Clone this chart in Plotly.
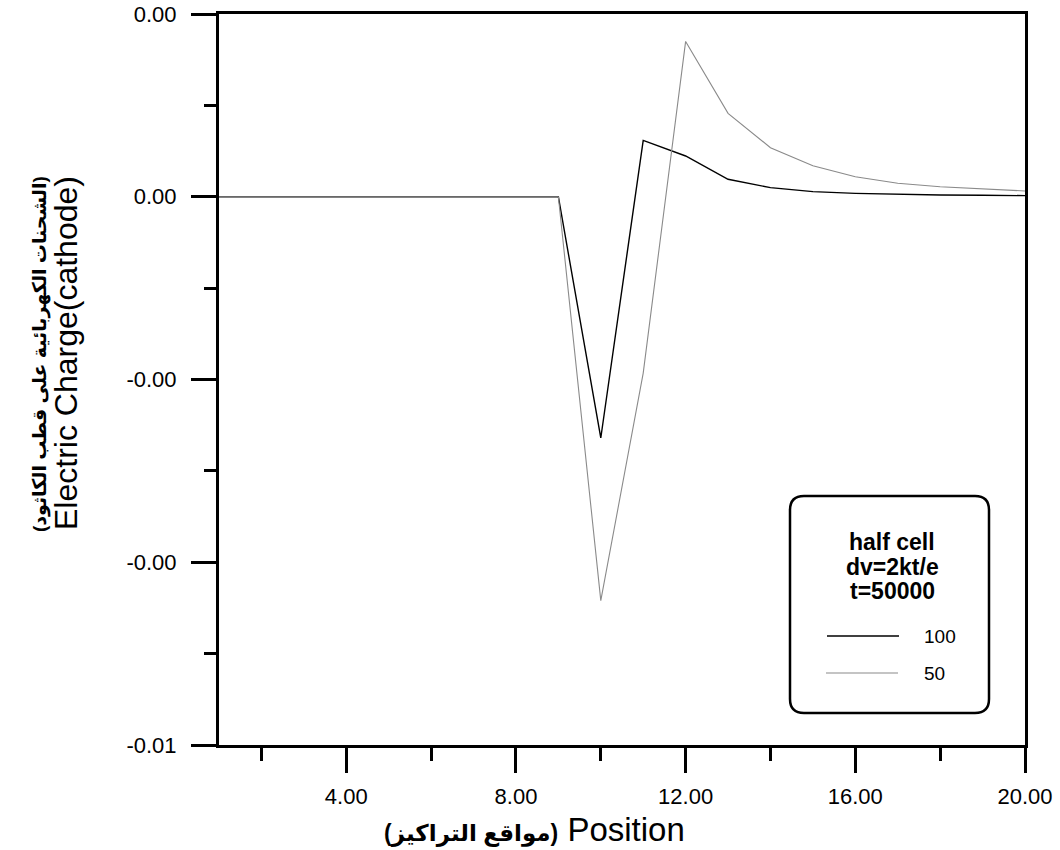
import plotly.graph_objects as go

# ---- data ----
positions = list(range(1, 21))
charge_100 = [0, 0, 0, 0, 0, 0, 0, 0, 0, -0.00264, 0.000617, 0.000446, 0.000191,
              0.000100, 0.000056, 0.000037, 0.000026, 0.000019, 0.000016, 0.000012]
charge_50 = [0, 0, 0, 0, 0, 0, 0, 0, 0, -0.00442, -0.00193, 0.00170, 0.000913,
             0.000537, 0.000340, 0.000219, 0.000147, 0.000110, 0.000085, 0.000063]
series_names = ["100", "50"]
x_tick_vals = [4, 8, 12, 16, 20]
x_tick_text = ["4.00", "8.00", "12.00", "16.00", "20.00"]
y_tick_vals = [0.002, 0.0, -0.002, -0.004, -0.006]
y_tick_text = [f"{v:.2f}" for v in y_tick_vals]
legend_title_lines = ["half cell", "dv=2kt/e", "t=50000"]

# ---- layout geometry (pixels) ----
W, H = 1060, 850
L, R, T, B = 219, 1025, 14, 745
PW, PH = R - L, B - T

def px(xp):
    return (xp - L) / PW

def py(yp):
    return (B - yp) / PH

FONT = "Liberation Sans, Arial, DejaVu Sans, sans-serif"

fig = go.Figure()
fig.add_trace(go.Scatter(x=positions, y=charge_100, mode="lines", name=series_names[0],
                         line=dict(color="#000000", width=1.4), showlegend=False))
fig.add_trace(go.Scatter(x=positions, y=charge_50, mode="lines", name=series_names[1],
                         line=dict(color="#8a8a8a", width=1.1), showlegend=False))

axis_common = dict(showline=True, linecolor="black", linewidth=3, mirror=True,
                   showgrid=False, zeroline=False, ticks="outside", tickcolor="black",
                   tickwidth=3, ticklen=25, automargin=False,
                   tickfont=dict(family=FONT, size=22, color="black"))

fig.update_xaxes(range=[1, 20], tickmode="array", tickvals=x_tick_vals, ticktext=x_tick_text,
                 minor=dict(ticks="outside", dtick=2, tick0=0, ticklen=13, tickwidth=3,
                            tickcolor="black", showgrid=False),
                 ticklabelstandoff=5, **axis_common)
fig.update_yaxes(range=[-0.006, 0.002], tickmode="array", tickvals=y_tick_vals, ticktext=y_tick_text,
                 minor=dict(ticks="outside", dtick=0.001, tick0=0, ticklen=12, tickwidth=3,
                            tickcolor="black", showgrid=False),
                 ticklabelstandoff=10, **axis_common)

# ---- legend box (rounded rectangle) ----
bx0, bx1, by0, by1, rad = 790, 989, 496, 713, 14
path = (f"M {px(bx0+rad)},{py(by0)} L {px(bx1-rad)},{py(by0)} "
        f"Q {px(bx1)},{py(by0)} {px(bx1)},{py(by0+rad)} "
        f"L {px(bx1)},{py(by1-rad)} Q {px(bx1)},{py(by1)} {px(bx1-rad)},{py(by1)} "
        f"L {px(bx0+rad)},{py(by1)} Q {px(bx0)},{py(by1)} {px(bx0)},{py(by1-rad)} "
        f"L {px(bx0)},{py(by0+rad)} Q {px(bx0)},{py(by0)} {px(bx0+rad)},{py(by0)} Z")
shapes = [dict(type="path", path=path, xref="paper", yref="paper",
               line=dict(color="black", width=2.5), fillcolor="white", layer="above")]
shapes.append(dict(type="line", xref="paper", yref="paper", x0=px(827), x1=px(899),
                   y0=py(636), y1=py(636), line=dict(color="#000000", width=1.4)))
shapes.append(dict(type="line", xref="paper", yref="paper", x0=px(826), x1=px(898),
                   y0=py(673), y1=py(673), line=dict(color="#8a8a8a", width=1.1)))

annotations = []
for txt, yc in zip(legend_title_lines, [542, 567, 591]):
    annotations.append(dict(text=f"<b>{txt}</b>", xref="paper", yref="paper", x=px(892), y=py(yc),
                            xanchor="center", yanchor="middle", showarrow=False,
                            font=dict(family=FONT, size=23, color="black")))
for name, yc in zip(series_names, [636, 673]):
    annotations.append(dict(text=name, xref="paper", yref="paper", x=px(922), y=py(yc),
                            xanchor="left", yanchor="middle", showarrow=False,
                            font=dict(family=FONT, size=19, color="black")))

# axis titles
annotations.append(dict(text="<b><span style='font-size:23px'>(مواقع التراكيز)</span></b> Position",
                        xref="paper", yref="paper",
                        x=px(534), y=py(829), xanchor="center", yanchor="middle", showarrow=False,
                        font=dict(family=FONT, size=33, color="black")))
annotations.append(dict(text="Electric Charge(cathode)", xref="paper", yref="paper",
                        x=px(66), y=py(353), xanchor="center", yanchor="middle", showarrow=False,
                        textangle=-90, font=dict(family=FONT, size=32, color="black")))
annotations.append(dict(text="<b>(الشحنات الكهربائية على قطب الكاثود)</b>", xref="paper", yref="paper",
                        x=px(40), y=py(354), xanchor="center", yanchor="middle", showarrow=False,
                        textangle=-90, font=dict(family=FONT, size=19, color="black")))

fig.update_layout(width=W, height=H, margin=dict(l=L, r=W - R, t=T, b=H - B, pad=0),
                  plot_bgcolor="white", paper_bgcolor="white", shapes=shapes,
                  annotations=annotations, showlegend=False)

fig.write_html("out.html")
